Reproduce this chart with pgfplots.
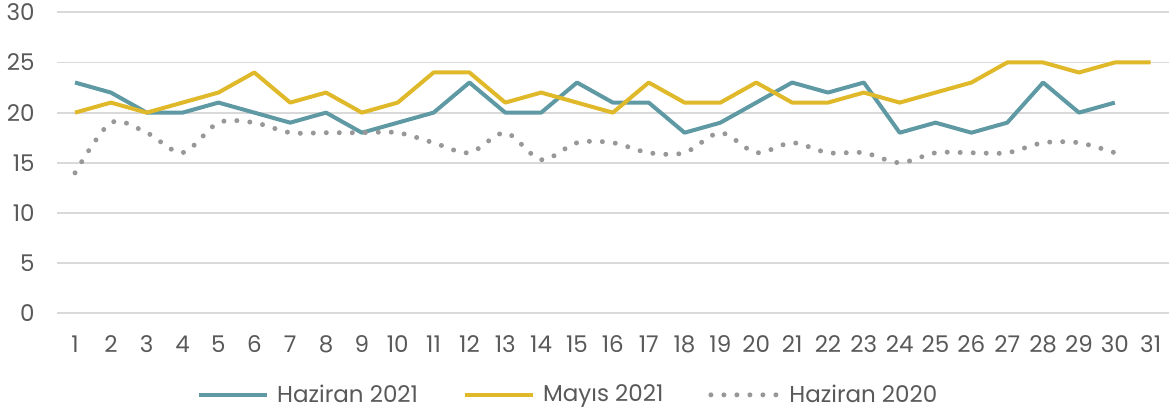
\documentclass[border=0pt]{standalone}
\usepackage{pgfplots}
\pgfplotsset{compat=1.18}
\usepackage{fontspec}
\setmainfont{Poppins}
\definecolor{teal21}{RGB}{95,154,164}
\definecolor{gold21}{RGB}{224,185,42}
\definecolor{gray20}{RGB}{152,152,152}
\definecolor{gridc}{RGB}{217,217,217}
\definecolor{txt}{RGB}{89,89,89}
\begin{document}
\begin{tikzpicture}
\path[use as bounding box] (0pt,0pt) rectangle (586pt,208pt);
\begin{axis}[
  at={(28.55pt,51.35pt)}, anchor=south west,
  scale only axis, width=555.75pt, height=150.5pt,
  xmin=0.5, xmax=31.5, ymin=0, ymax=30,
  xtick={1,...,31}, ytick={0,5,...,30},
  axis line style={draw=none},
  tick style={draw=none},
  ymajorgrids, grid style={gridc, line width=0.9pt},
  ticklabel style={font=\fontsize{11.5}{13}\selectfont, text=txt},
  /pgf/number format/assume math mode=true,
  yticklabel style={xshift=-7.7pt},
  xticklabel style={yshift=-7.7pt},
  legend style={at={(0.459,-0.271)}, anchor=center, draw=none, fill=none,
     legend columns=3, font=\fontsize{11.5}{13}\selectfont, text=txt,
     nodes={inner sep=0pt},
     /tikz/every odd column/.append style={column sep=4pt},
     /tikz/every even column/.append style={column sep=22.5pt}},
  legend cell align=left,
  legend image code/.code={\draw[#1] (0pt,0pt) -- (34pt,0pt);},
  clip=false,
]
\addplot[teal21, line width=2pt, line join=round] coordinates {
(1,23)(2,22)(3,20)(4,20)(5,21)(6,20)(7,19)(8,20)(9,18)(10,19)
(11,20)(12,23)(13,20)(14,20)(15,23)(16,21)(17,21)(18,18)(19,19)(20,21)
(21,23)(22,22)(23,23)(24,18)(25,19)(26,18)(27,19)(28,23)(29,20)(30,21)};
\addlegendentry{Haziran 2021}
\addplot[gold21, line width=2pt, line join=round] coordinates {
(1,20)(2,21)(3,20)(4,21)(5,22)(6,24)(7,21)(8,22)(9,20)(10,21)
(11,24)(12,24)(13,21)(14,22)(15,21)(16,20)(17,23)(18,21)(19,21)(20,23)
(21,21)(22,21)(23,22)(24,21)(25,22)(26,23)(27,25)(28,25)(29,24)(30,25)(31,25)};
\addlegendentry{Mayıs 2021}
\addplot[gray20, line width=2.5pt, line cap=round, dash pattern=on 0pt off 6.5pt, smooth, tension=0.5] coordinates {
(1,14)(2,19)(3,18)(4,16)(5,19)(6,19)(7,18)(8,18)(9,18)(10,18)
(11,17)(12,16)(13,18)(14,15.3)(15,17)(16,17)(17,16)(18,16)(19,18)(20,16)
(21,17)(22,16)(23,16)(24,15)(25,16)(26,16)(27,16)(28,17)(29,17)(30,16)};
\addlegendentry{Haziran 2020}
\end{axis}
\end{tikzpicture}
\end{document}
